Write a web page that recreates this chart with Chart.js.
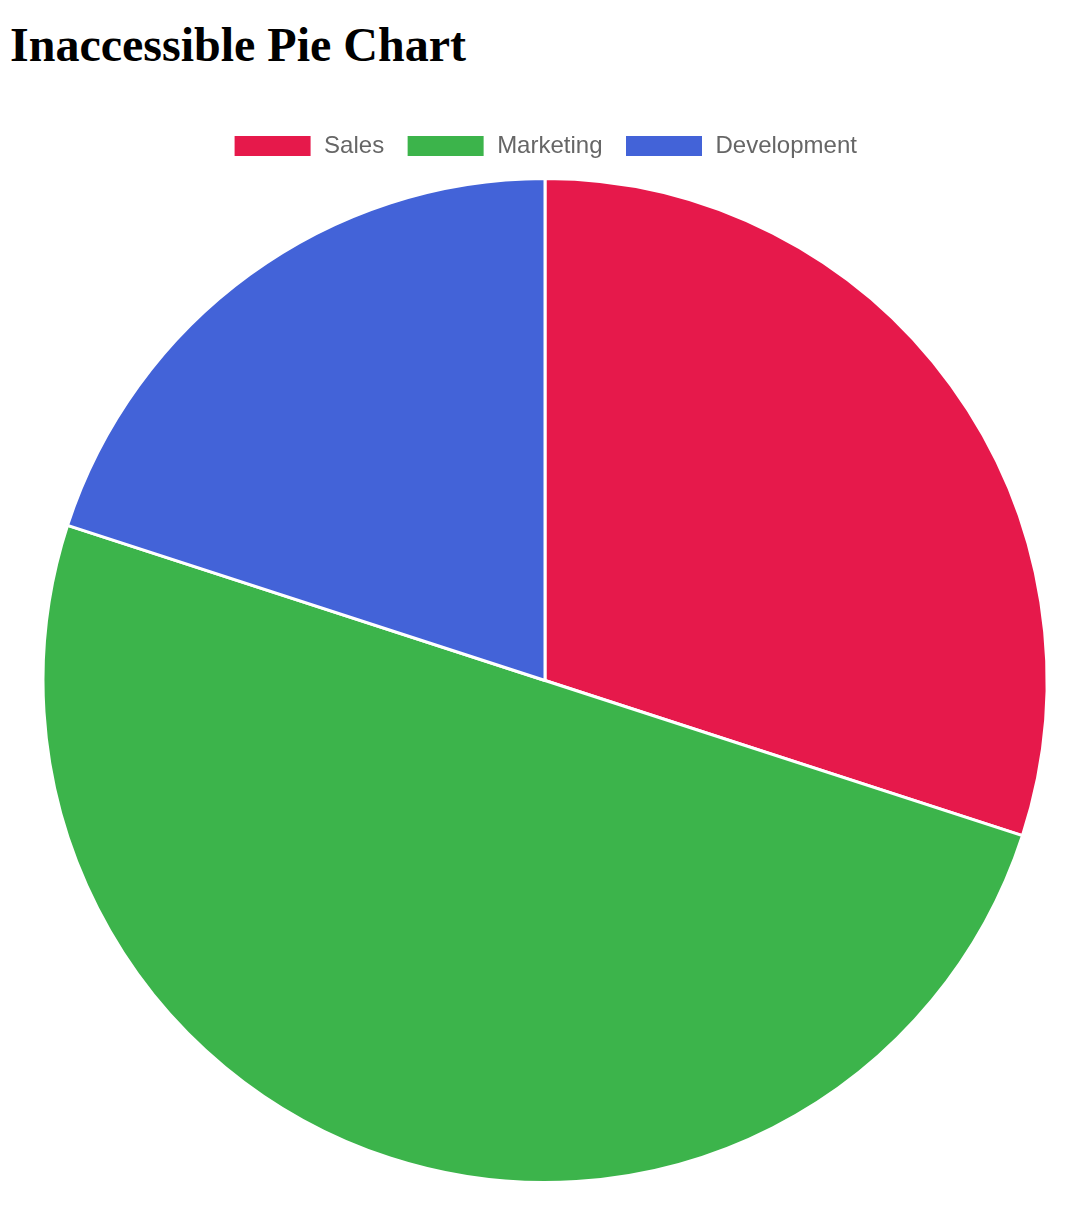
<!DOCTYPE html>
<html>
<head>
<meta charset="utf-8">
<script src="https://cdn.jsdelivr.net/npm/chart.js@4"></script>
<style>
  body { margin: 0; background: #fff; }
  h1 {
    position: absolute; left: 10px; top: 0; margin: 0;
    font-family: "Liberation Serif", "Times New Roman", serif;
    font-size: 48px; font-weight: bold; line-height: 90px;
  }
  #wrap { position: absolute; left: 10px; top: 112px; width: 1070px; height: 1072px; }
</style>
</head>
<body>
<h1>Inaccessible Pie Chart</h1>
<div id="wrap"><canvas id="myChart"></canvas></div>
<script>
'use strict';

let labels = ['Sales', 'Marketing', 'Development'];
let values = [30, 50, 20];
let colors = ['#e6194b', '#3cb44b', '#4363d8'];

// a little more room under the legend
let legendGap = {
    id: 'legendGap',
    beforeInit(chart) {
        let fit = chart.legend.fit;
        chart.legend.fit = function () {
            fit.bind(chart.legend)();
            this.height += 9;
        };
    }
};

let ctx = document.getElementById('myChart').getContext('2d');
let myChart = new Chart(ctx, {
    type: 'pie',
    data: {
        labels: labels,
        datasets: [{
            data: values,
            backgroundColor: colors,
            borderColor: '#fff',
            borderWidth: 3
        }]
    },
    options: {
        responsive: true,
        maintainAspectRatio: false,
        animation: false,
        plugins: {
            legend: {
                labels: {
                    boxWidth: 79,
                    boxHeight: 23,
                    padding: 22,
                    color: '#666',
                    font: { family: 'Helvetica, Arial, "Liberation Sans", sans-serif', size: 24 }
                }
            },
            tooltip: { enabled: false }
        }
    },
    plugins: [legendGap]
});
</script>
</body>
</html>
